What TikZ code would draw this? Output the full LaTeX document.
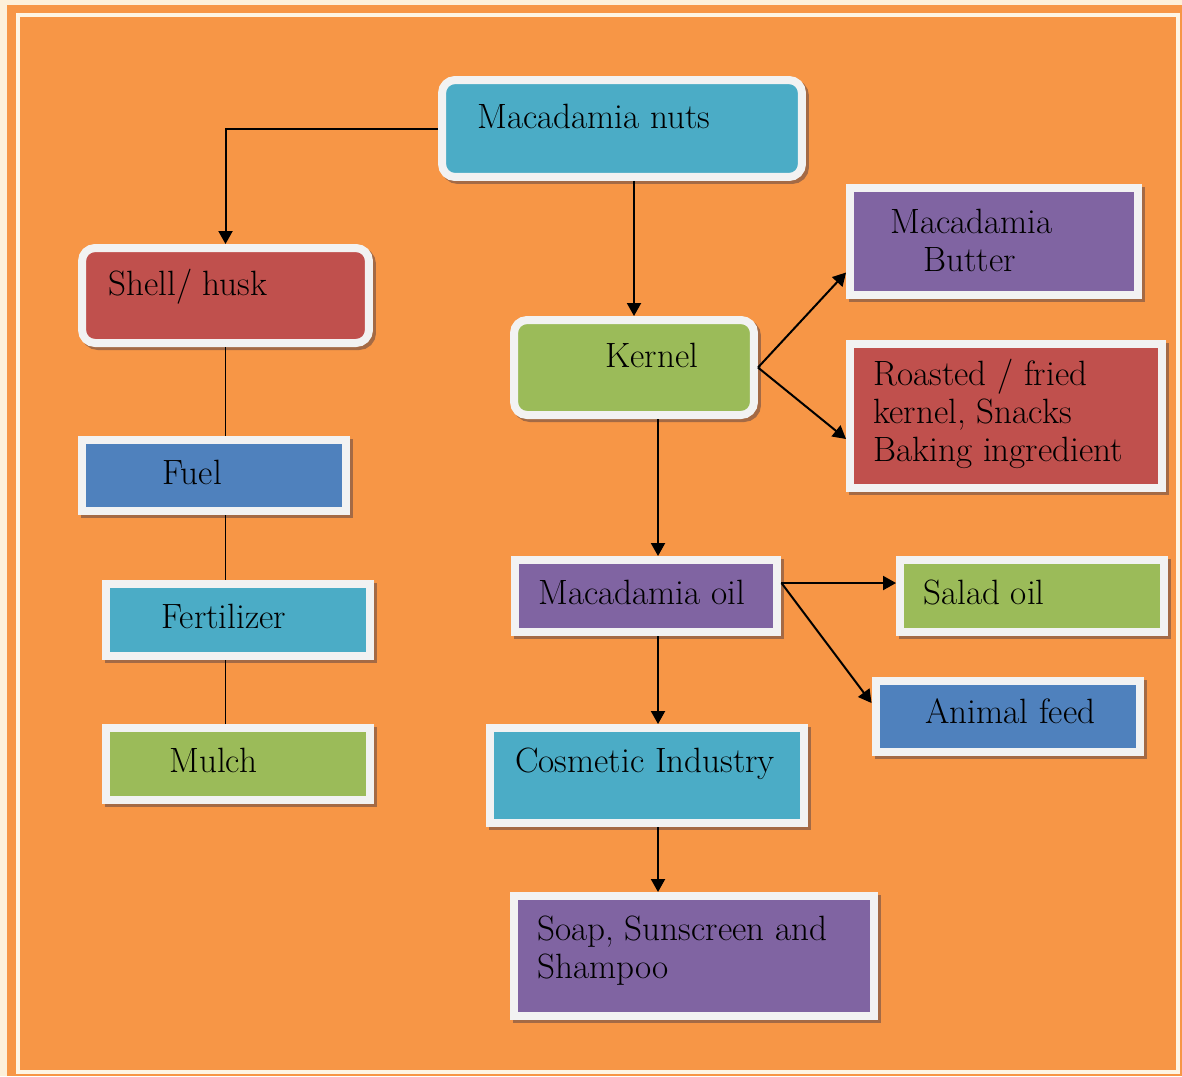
\documentclass[tikz,border=0pt]{standalone}
\usepackage{xcolor}
\usepackage{tikz}
\usetikzlibrary{arrows.meta,shadows}
\definecolor{bgorange}{HTML}{F79646}
\definecolor{pagecream}{HTML}{FDF0DA}
\definecolor{rimcream}{HTML}{FEF5E4}
\definecolor{boxteal}{HTML}{4BACC6}
\definecolor{boxred}{HTML}{C0504D}
\definecolor{boxblue}{HTML}{4F81BD}
\definecolor{boxgreen}{HTML}{9BBB59}
\definecolor{boxpurple}{HTML}{8064A2}
\definecolor{rimwhite}{HTML}{F2F2F2}
\definecolor{shadowbrown}{HTML}{A46A45}

\begin{document}
\begin{tikzpicture}[x=0.02cm, y=-0.02cm,
  box/.style={rectangle, draw=rimwhite, line width=0.16cm, inner sep=0pt,
    drop shadow={shadow xshift=0.06cm, shadow yshift=-0.06cm, fill=shadowbrown, draw=shadowbrown, line width=0.16cm, opacity=1}},
  roundbox/.style={box, rounded corners=0.26cm},
  txt/.style={anchor=base west, inner sep=0pt, align=left, font=\fontsize{20}{21.6}\selectfont},
  arrow/.style={-{Triangle[length=0.26cm, width=0.28cm]}, line width=0.04cm},
  link/.style={line width=0.035cm}
]
  % Page and frame
  \useasboundingbox (0,0) rectangle (1182,1076);
  \fill[pagecream] (0,0) rectangle (1182,1076);
  \fill[bgorange] (7,5) rectangle (1182,1076);
  \draw[rimcream, line width=0.08cm] (18,15) rectangle (1178,1072);

  % Top
  \node[roundbox, fill=boxteal, minimum width=7.2cm, minimum height=1.94cm] (nuts) at (622,128.5) {};
  \node[txt] (nutsT) at (477,128) {Macadamia nuts};

  % Shell branch
  \node[roundbox, fill=boxred, minimum width=5.74cm, minimum height=1.9cm] (shell) at (225.5,295.5) {};
  \node[txt] (shellT) at (108,295) {Shell/ husk};
  \node[box, fill=boxblue, minimum width=5.28cm, minimum height=1.42cm] (fuel) at (214,475.5) {};
  \node[txt] (fuelT) at (162,484) {Fuel};
  \node[box, fill=boxteal, minimum width=5.28cm, minimum height=1.44cm] (fert) at (238,620) {};
  \node[txt] (fertT) at (161,628) {Fertilizer};
  \node[box, fill=boxgreen, minimum width=5.28cm, minimum height=1.44cm] (mulch) at (238,764) {};
  \node[txt] (mulchT) at (169,772) {Mulch};

  % Kernel branch
  \node[roundbox, fill=boxgreen, minimum width=4.8cm, minimum height=1.9cm] (kernel) at (634,367.5) {};
  \node[txt] (kernelT) at (605,367) {Kernel};
  \node[box, fill=boxpurple, minimum width=5.76cm, minimum height=2.14cm] (butter) at (994,241.5) {};
  \node[txt] (butterT) at (890,271) {Macadamia\\\hspace*{0.66cm}Butter};
  \node[box, fill=boxred, minimum width=6.24cm, minimum height=2.88cm] (roast) at (1006,416) {};
  \node[txt] (roastT) at (873,461) {Roasted / fried\\kernel, Snacks\\Baking ingredient};

  % Oil branch
  \node[box, fill=boxpurple, minimum width=5.26cm, minimum height=1.44cm] (oil) at (646,596) {};
  \node[txt] (oilT) at (538,604) {Macadamia oil};
  \node[box, fill=boxgreen, minimum width=5.28cm, minimum height=1.44cm] (salad) at (1032,596) {};
  \node[txt] (saladT) at (923,604) {Salad oil};
  \node[box, fill=boxblue, minimum width=5.3cm, minimum height=1.42cm] (feed) at (1008,716) {};
  \node[txt] (feedT) at (925,723) {Animal feed};
  \node[box, fill=boxteal, minimum width=6.28cm, minimum height=1.9cm] (cosm) at (647,775.5) {};
  \node[txt] (cosmT) at (515,772) {Cosmetic Industry};
  \node[box, fill=boxpurple, minimum width=7.2cm, minimum height=2.4cm] (soap) at (694,956) {};
  \node[txt] (soapT) at (537,978) {Soap, Sunscreen and\\Shampoo};

  \coordinate (spine) at (658,0);

  \draw[arrow] (nuts.west) -| (shell.north);
  \draw[arrow] (kernel.north |- nuts.south) -- (kernel.north);
  \draw[link] (shell.south) -- (shell.south |- fuel.north);
  \draw[link] (shell.south |- fuel.south) -- (shell.south |- fert.north);
  \draw[link] (shell.south |- fert.south) -- (shell.south |- mulch.north);
  \draw[arrow] (kernel.east) -- ([yshift=-0.62cm]butter.west);
  \draw[arrow] (kernel.east) -- ([yshift=-0.46cm]roast.west);
  \draw[arrow] (spine |- kernel.south) -- (spine |- oil.north);
  \draw[arrow] ([yshift=0.26cm]oil.east) -- ([yshift=0.26cm]salad.west);
  \draw[arrow] ([yshift=0.26cm]oil.east) -- ([yshift=0.26cm]feed.west);
  \draw[arrow] (spine |- oil.south) -- (spine |- cosm.north);
  \draw[arrow] (spine |- cosm.south) -- (spine |- soap.north);
\end{tikzpicture}
\end{document}
